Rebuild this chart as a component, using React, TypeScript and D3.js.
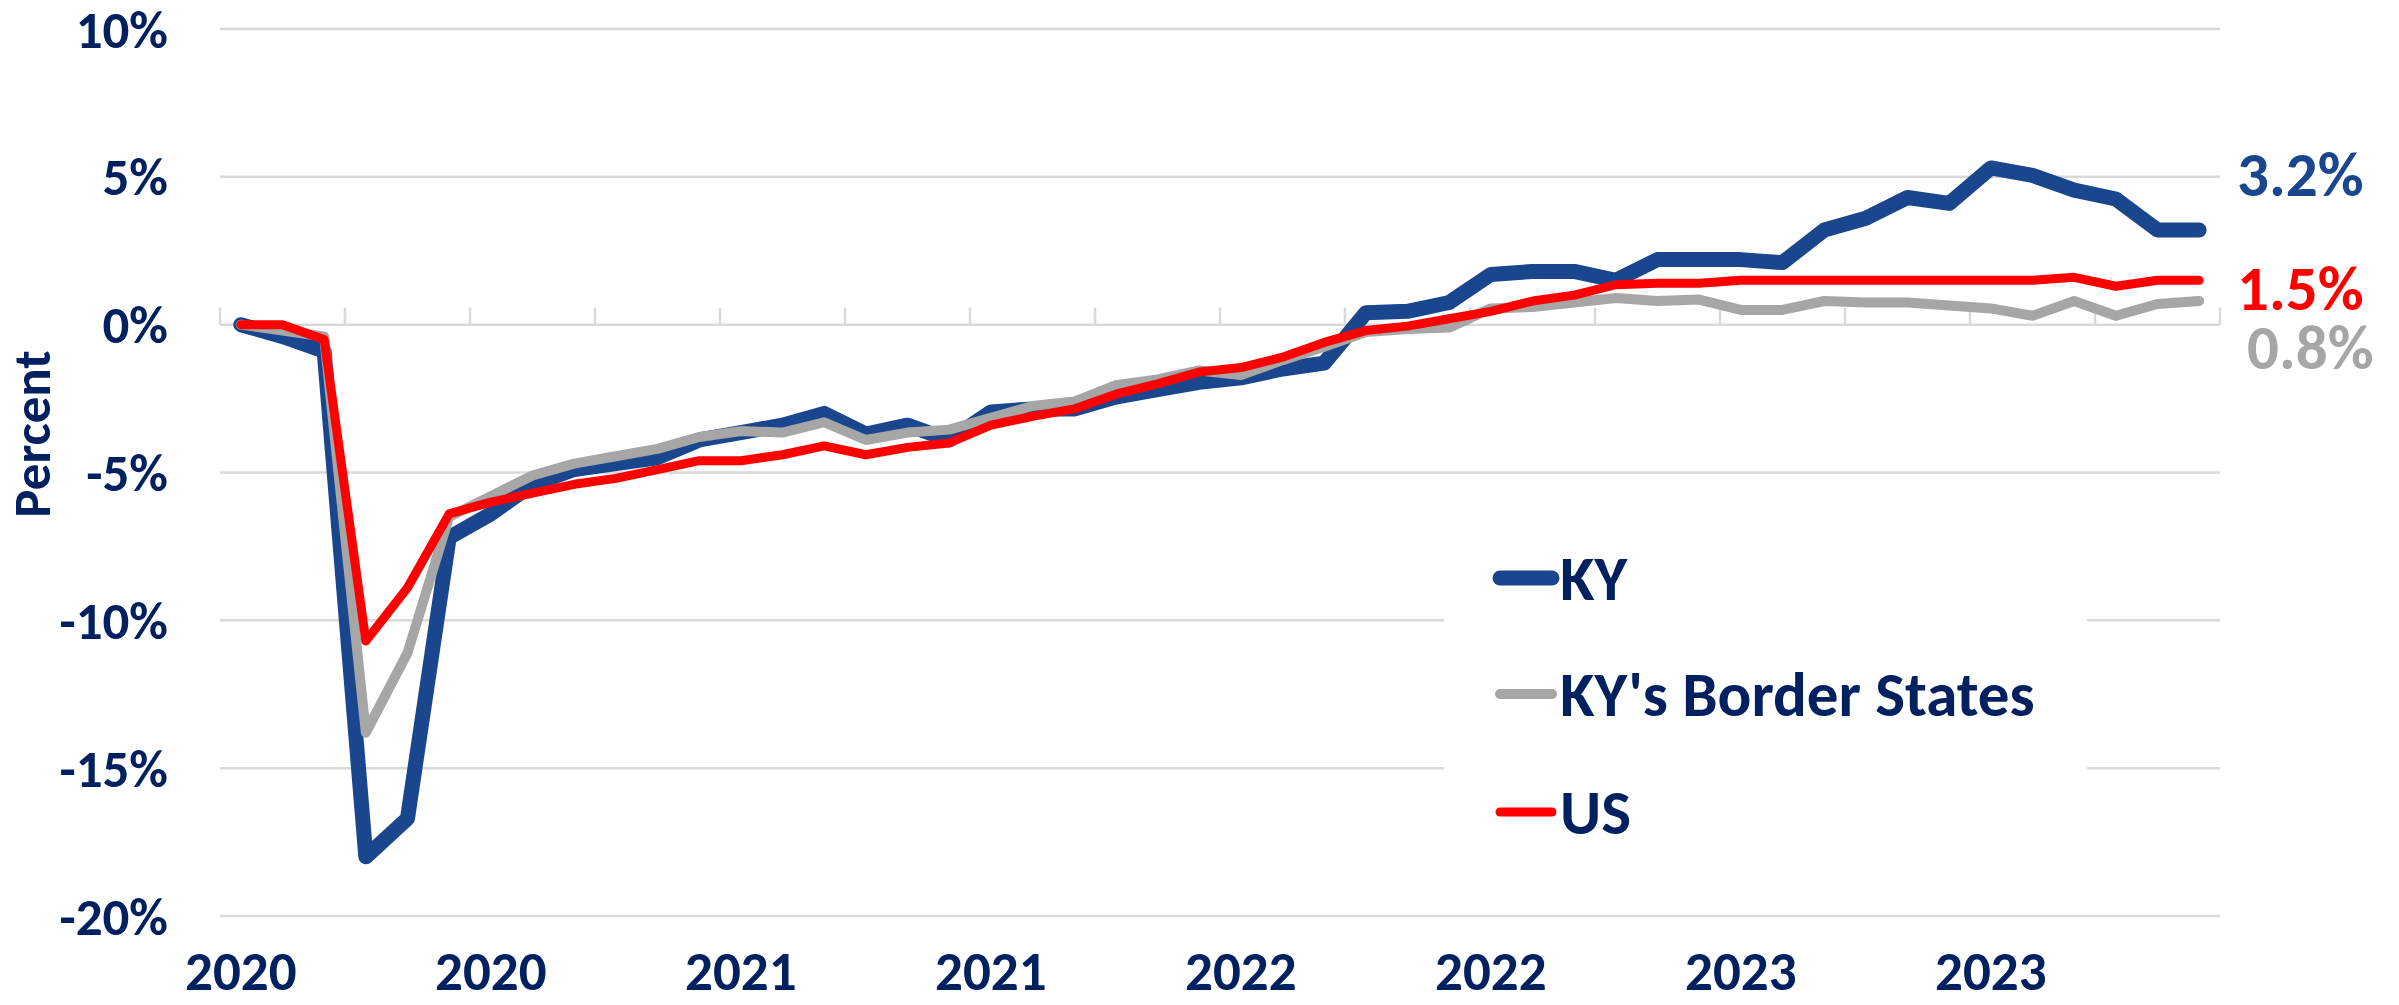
import React from 'react';
import * as d3 from 'd3';

// monthly categories, Jan 2020 .. Dec 2023
const months = [
  'Jan 2020', 'Feb 2020', 'Mar 2020', 'Apr 2020', 'May 2020', 'Jun 2020',
  'Jul 2020', 'Aug 2020', 'Sep 2020', 'Oct 2020', 'Nov 2020', 'Dec 2020',
  'Jan 2021', 'Feb 2021', 'Mar 2021', 'Apr 2021', 'May 2021', 'Jun 2021',
  'Jul 2021', 'Aug 2021', 'Sep 2021', 'Oct 2021', 'Nov 2021', 'Dec 2021',
  'Jan 2022', 'Feb 2022', 'Mar 2022', 'Apr 2022', 'May 2022', 'Jun 2022',
  'Jul 2022', 'Aug 2022', 'Sep 2022', 'Oct 2022', 'Nov 2022', 'Dec 2022',
  'Jan 2023', 'Feb 2023', 'Mar 2023', 'Apr 2023', 'May 2023', 'Jun 2023',
  'Jul 2023', 'Aug 2023', 'Sep 2023', 'Oct 2023', 'Nov 2023', 'Dec 2023',
];

const kyValues = [
  0.0, -0.4, -0.9, -18.0, -16.7, -7.2, -6.4, -5.4, -4.9, -4.7, -4.5, -3.9,
  -3.65, -3.4, -3.0, -3.7, -3.4, -3.9, -2.95, -2.85, -2.85, -2.45, -2.2, -1.95,
  -1.8, -1.5, -1.3, 0.4, 0.45, 0.75, 1.7, 1.8, 1.8, 1.5, 2.2, 2.2,
  2.2, 2.1, 3.2, 3.6, 4.3, 4.1, 5.3, 5.05, 4.55, 4.25, 3.2, 3.2,
];

const borderValues = [
  0.0, -0.2, -0.4, -13.8, -11.1, -6.5, -5.8, -5.1, -4.7, -4.45, -4.2, -3.8,
  -3.6, -3.65, -3.3, -3.9, -3.65, -3.55, -3.15, -2.75, -2.6, -2.05, -1.85, -1.55,
  -1.7, -1.2, -0.75, -0.25, -0.15, -0.1, 0.55, 0.6, 0.75, 0.9, 0.8, 0.85,
  0.5, 0.5, 0.8, 0.75, 0.75, 0.65, 0.55, 0.3, 0.8, 0.3, 0.7, 0.8,
];

const usValues = [
  0.0, 0.0, -0.5, -10.7, -8.9, -6.4, -6.0, -5.7, -5.4, -5.2, -4.9, -4.6,
  -4.6, -4.4, -4.1, -4.4, -4.15, -4.0, -3.4, -3.1, -2.85, -2.35, -2.0, -1.6,
  -1.45, -1.1, -0.6, -0.2, -0.05, 0.2, 0.45, 0.8, 1.0, 1.35, 1.4, 1.4,
  1.5, 1.5, 1.5, 1.5, 1.5, 1.5, 1.5, 1.5, 1.6, 1.3, 1.5, 1.5,
];

const yTicks = [-20, -15, -10, -5, 0, 5, 10];
const xLabelMonths = ['Jan 2020', 'Jul 2020', 'Jan 2021', 'Jul 2021', 'Jan 2022', 'Jul 2022', 'Jan 2023', 'Jul 2023'];
const xLabels = ['2020', '2020', '2021', '2021', '2022', '2022', '2023', '2023'];
const endLabels = ['3.2%', '0.8%', '1.5%'];

const W = 2399;
const H = 1005;
const NAVY = '#002060';
const FONT = "Carlito, 'Liberation Sans Narrow', 'Arial Narrow', 'Open Sans', sans-serif";

const series = [
  { name: 'KY', values: kyValues, color: '#1A468E', width: 15, label: endLabels[0] },
  { name: "KY's Border States", values: borderValues, color: '#A6A6A6', width: 10, label: endLabels[1] },
  { name: 'US', values: usValues, color: '#FF0000', width: 9, label: endLabels[2] },
];

export default function App() {
  const x = d3.scaleBand<string>().domain(months).range([220, 2220]).padding(0);
  const y = d3.scaleLinear().domain([-20, 10]).range([916, 29]);
  const cx = (m: string) => (x(m) ?? 0) + x.bandwidth() / 2;

  const line = d3.line<number>()
    .x((_, i) => cx(months[i]))
    .y(d => y(d));

  // tick marks every 3 months on the 0% axis
  const tickBounds = d3.range(0, months.length + 1, 3).map(i => 220 + i * x.bandwidth());

  // end label positions, nudged apart like the original
  const endLabelY = [y(kyValues[47]) - 56, y(borderValues[47]) + 46, y(usValues[47]) + 8];
  const endLabelX = [2237, 2247, 2237];

  const legendY = [578, 694, 812];

  return (
    <svg width={W} height={H} style={{ position: 'absolute', left: 0, top: 0, background: '#fff' }} fontFamily={FONT}>
      {/* gridlines */}
      {yTicks.map(t => (
        <line key={t} x1={220} x2={2220} y1={y(t)} y2={y(t)} stroke="#D9D9D9" strokeWidth={2.5} />
      ))}
      {tickBounds.map((tx, i) => (
        <line key={i} x1={tx} x2={tx} y1={y(0)} y2={y(0) - 17} stroke="#D9D9D9" strokeWidth={2.5} />
      ))}

      {/* y labels */}
      {yTicks.map(t => (
        <text key={t} x={168} y={y(t)} dy="0.35em" textAnchor="end" fontSize={53} fontWeight="bold" fill={NAVY}>
          {`${t}%`}
        </text>
      ))}
      <text transform="translate(50,434) rotate(-90)" textAnchor="middle" fontSize={53} fontWeight="bold" fill={NAVY}>
        Percent
      </text>

      {/* x labels */}
      {xLabelMonths.map((m, i) => (
        <text key={m} x={cx(m)} y={990} textAnchor="middle" fontSize={55} fontWeight="bold" fill={NAVY}>
          {xLabels[i]}
        </text>
      ))}

      {/* legend (white box hides gridlines) */}
      <rect x={1444} y={510} width={643} height={380} fill="#fff" />
      {series.map((s, i) => (
        <g key={s.name}>
          <line x1={1500} x2={1552} y1={legendY[i]} y2={legendY[i]} stroke={s.color} strokeWidth={s.width} strokeLinecap="round" />
          <text x={1560} y={legendY[i]} dy="0.35em" fontSize={63} fontWeight="bold" fill={NAVY}>{s.name}</text>
        </g>
      ))}

      {/* series */}
      {series.map(s => (
        <path key={s.name} d={line(s.values) ?? ''} fill="none" stroke={s.color} strokeWidth={s.width}
          strokeLinejoin="round" strokeLinecap="round" />
      ))}

      {/* end value labels */}
      {series.map((s, i) => (
        <text key={s.name} x={endLabelX[i]} y={endLabelY[i]} dy="0.35em" fontSize={63} fontWeight="bold" fill={s.color}>
          {s.label}
        </text>
      ))}
    </svg>
  );
}
